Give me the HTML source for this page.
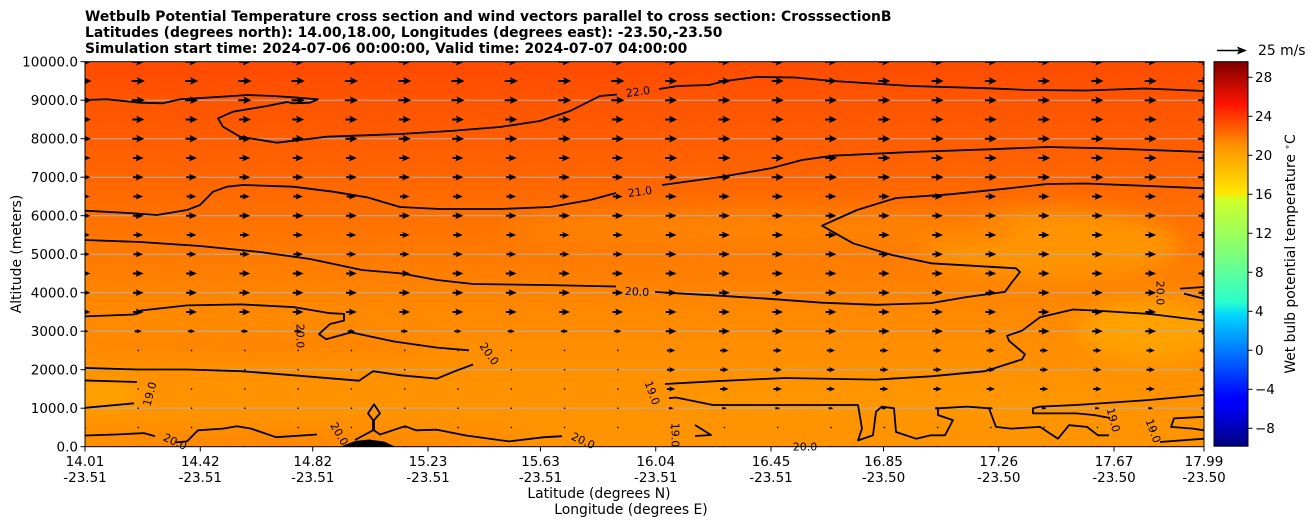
<!DOCTYPE html>
<html><head><meta charset="utf-8">
<style>
html,body{margin:0;padding:0;background:#fff;}
svg{display:block;font-family:"DejaVu Sans","Liberation Sans",sans-serif;}
</style></head>
<body>
<svg id="chart" width="1311" height="526" viewBox="0 0 1311 526" xmlns="http://www.w3.org/2000/svg">
<defs>
<linearGradient id="bgGrad" x1="0" y1="61.7" x2="0" y2="446.7" gradientUnits="userSpaceOnUse">
<stop offset="0" stop-color="#ff4c00"/>
<stop offset="0.12" stop-color="#ff5600"/>
<stop offset="0.28" stop-color="#ff6300"/>
<stop offset="0.4" stop-color="#ff7000"/>
<stop offset="0.52" stop-color="#ff7c00"/>
<stop offset="0.65" stop-color="#ff8900"/>
<stop offset="0.8" stop-color="#ff9100"/>
<stop offset="1" stop-color="#ff9400"/>
</linearGradient>
<linearGradient id="jet" x1="0" y1="1" x2="0" y2="0">
<stop offset="0" stop-color="#00007f"/>
<stop offset="0.11" stop-color="#0000ff"/>
<stop offset="0.125" stop-color="#0000ff"/>
<stop offset="0.34" stop-color="#00d4ff"/>
<stop offset="0.375" stop-color="#29ffce"/>
<stop offset="0.5" stop-color="#7dff7a"/>
<stop offset="0.64" stop-color="#ceff29"/>
<stop offset="0.66" stop-color="#ffe500"/>
<stop offset="0.78" stop-color="#ff9400"/>
<stop offset="0.89" stop-color="#ff1300"/>
<stop offset="1" stop-color="#7f0000"/>
</linearGradient>
<filter id="blur" x="-50%" y="-50%" width="200%" height="200%"><feGaussianBlur stdDeviation="10"/></filter>
<clipPath id="plotClip"><rect x="85" y="61.7" width="1119" height="385"/></clipPath>
</defs>

<g font-weight="bold" font-size="13.9" fill="#000">
<text x="85" y="21">Wetbulb Potential Temperature cross section and wind vectors parallel to cross section: CrosssectionB</text>
<text x="85" y="37">Latitudes (degrees north): 14.00,18.00, Longitudes (degrees east): -23.50,-23.50</text>
<text x="85" y="53">Simulation start time: 2024-07-06 00:00:00, Valid time: 2024-07-07 04:00:00</text>
</g>

<g clip-path="url(#plotClip)">
<rect x="85" y="61.7" width="1119" height="385" fill="url(#bgGrad)"/>
<g filter="url(#blur)">
<ellipse cx="1050" cy="245" rx="130" ry="35" fill="#ff9400"/>
<ellipse cx="1150" cy="330" rx="70" ry="30" fill="#ffa200"/>
<ellipse cx="105" cy="395" rx="35" ry="10" fill="#ffaa00"/>
<ellipse cx="300" cy="440" rx="230" ry="7" fill="#ff8000"/>
<ellipse cx="250" cy="345" rx="200" ry="12" fill="#ff8400"/>
<ellipse cx="760" cy="230" rx="260" ry="20" fill="#ff8200"/>
<ellipse cx="300" cy="64" rx="400" ry="8" fill="#ff4800"/>
<ellipse cx="900" cy="400" rx="240" ry="18" fill="#ff9600"/>
</g>
<g id="grid"></g>
<g id="contours" fill="none" stroke="#000" stroke-width="1.8" stroke-linejoin="round"></g>
<path d="M337,448 L355,441 L369,439.5 L384,441.5 L398,448 Z" fill="#000"/>
<g id="arrows" fill="#000"></g>
</g>
<g id="clabels" font-size="11" fill="#000"></g>
<rect x="85" y="61.7" width="1119" height="385" fill="none" stroke="#000" stroke-width="1"/>
<g id="yaxis" font-size="13.5"></g>
<g id="xaxis" font-size="13.5"></g>
<text font-size="13.9" text-anchor="middle" transform="translate(21,254) rotate(-90)">Altitude (meters)</text>
<text font-size="13.9" x="599" y="498" text-anchor="middle">Latitude (degrees N)</text>
<text font-size="13.9" x="631" y="514" text-anchor="middle">Longitude (degrees E)</text>

<g>
<line x1="1217" y1="50.5" x2="1239" y2="50.5" stroke="#000" stroke-width="1.6"/>
<polygon points="1247,50.5 1237,46.5 1239,50.5 1237,54.5" fill="#000"/>
<text x="1258" y="55" font-size="13.9">25 m/s</text>
</g>

<g id="colorbar">
<rect x="1214" y="61.7" width="34" height="384.5" fill="url(#jet)" stroke="#000" stroke-width="1"/>
</g>
<text font-size="13.9" text-anchor="middle" transform="translate(1295,254) rotate(-90)">Wet bulb potential temperature <tspan font-size="9" dy="-5">∘</tspan><tspan dy="5">C</tspan></text>
</svg>

<script>
// ---- data ----
const altTicks = [0,1000,2000,3000,4000,5000,6000,7000,8000,9000,10000];
const latTicks = [14.01,14.42,14.82,15.23,15.63,16.04,16.45,16.85,17.26,17.67,17.99];
const lonTicks = ["-23.51","-23.51","-23.51","-23.51","-23.51","-23.51","-23.51","-23.50","-23.50","-23.50","-23.50"];
const cbTicks = [-8,-4,0,4,8,12,16,20,24,28];
const windAlts = [10000,9500,9000,8500,8000,7500,7000,6500,6000,5500,5000,4500,4000,3500,3000,2500,2000,1500,1000,500,0];
const windLeft = [10,11,11,10,10,9,9,8,9,8,8,9,9,9,6,1.5,1.5,1,1,1,0.5];
const windRight = [10,10,10,10,10,10,10,9,9,9,9,9,9,9,9,7,7,7,4,1,0.5];
const windCols = 22;
// ---- scales ----
const latMin=14.01, latMax=17.99, altMax=10000;
function xS(lat){return 85+(lat-latMin)/(latMax-latMin)*1119;}
function yS(alt){return 446.7-alt/altMax*385;}
const cbMin=-9.84, cbMax=29.6;
function cbY(v){return 446.2-(v-cbMin)/(cbMax-cbMin)*384.5;}
const pxPerMs = 30/25;
const NS="http://www.w3.org/2000/svg";
function mk(tag,attrs,parent){const e=document.createElementNS(NS,tag);for(const k in attrs)e.setAttribute(k,attrs[k]);parent.appendChild(e);return e;}

const grid=document.getElementById('grid'), yax=document.getElementById('yaxis');
altTicks.forEach(a=>{
  const y=yS(a);
  const g=mk('line',{x1:85,x2:1204,y1:y,y2:y,stroke:'#b0b0b0','stroke-width':1},grid);
  
  
  const t=mk('line',{x1:80.5,x2:85,y1:y,y2:y,stroke:'#000'},yax);
  
  
  const l=mk('text',{x:78,y:y+4.8,'text-anchor':'end'},yax);
  l.textContent=a.toFixed(1);
  
  
});
const xax=document.getElementById('xaxis');
latTicks.forEach((lat,i)=>{
  const x=xS(lat);
  const t=mk('line',{x1:x,x2:x,y1:446.7,y2:451.5,stroke:'#000'},xax);
  
  
  const l=mk('text',{x:x,y:466,'text-anchor':'middle'},xax);
  l.textContent=lat.toFixed(2);
  
  
  const l2=mk('text',{x:x,y:482,'text-anchor':'middle'},xax);
  l2.textContent=lonTicks[i];
  
  
});
const cb=document.getElementById('colorbar');
cbTicks.forEach(v=>{
  const y=cbY(v);
  const t=mk('line',{x1:1248,x2:1252.5,y1:y,y2:y,stroke:'#000'},cb);
  
  
  const l=mk('text',{x:1255,y:y+4.8,'font-size':13.5},cb);
  l.textContent=(v<0?'\u2212'+Math.abs(v):String(v));
  
  
});
const arr=document.getElementById('arrows');
for(let r=0;r<windAlts.length;r++){
  for(let c=0;c<windCols;c++){
    const lat=latMin+c*(latMax-latMin)/(windCols-1);
    const u=c<11?windLeft[r]:windRight[r];
    const L=u*pxPerMs;
    const cx=xS(lat), cy=yS(windAlts[r]);
    let el;
    if(L<3){
      el=mk('circle',{cx:cx,cy:cy,r:Math.max(0.8,L/2.2)},arr);
    } else {
      const x0=cx-L/2, x1=cx+L/2;
      const hl=Math.min(L*0.75,8), hw=Math.min(3.8,L*0.32);
      const sw=1.0;
      const xb=x1-hl;
      el=mk('polygon',{points:`${x0},${cy-sw} ${xb+1},${cy-sw} ${xb},${cy-hw} ${x1},${cy} ${xb},${cy+hw} ${xb+1},${cy+sw} ${x0},${cy+sw}`},arr);
    }
    
    
  }
}
const contourPaths=[
 "M85,100 L107,99.3 L140,102.7 L163,103.3 L180,99.3 L233,96 L247,95 L273,96 L293,97.3 L318,99.3 L310,102.7 L293,103.3 L287,102 L267,106 L233,111.7 L218,118.3 L223,126.7 L240,136.7 L277,142.7 L300,140 L327,136.7 L400,134 L450,131 L500,127 L540,121 L570,111 L600,96 L617,94.5",
 "M659,89 L678,86 L709,85 L725,81 L756,77 L795,77.5 L833,81 L911,86 L989,88.3 L1028,90 L1086,90.5 L1145,88.5 L1204,91",
 "M85,210.7 L133,213.3 L157,215 L187,210 L200,205 L213,191.7 L227,186.7 L243,185 L293,186.7 L333,191.7 L367,197.3 L400,207 L440,209 L500,209 L550,207 L590,200 L616,193",
 "M662,185 L717,177.5 L771,168.3 L802,160 L833,155.7 L911,152 L989,149.3 L1047,147 L1106,148.3 L1204,152",
 "M1204,188.3 L1149,186 L1086,183.5 L1047,184 L1009,188.3 L950,194.3 L896,198 L857,210 L822,225.7 L853,243.3 L892,255 L931,263.3 L1016,268.3 L1020,272 L1011,283.5 L1005,291.9 L967,297 L931,303.1 L876,304.8 L822,302.7 L767,298.7 L713,295.3 L669,292.9 L655,291.9",
 "M85,240 L140,242 L200,246 L260,252 L310,259 L362,270 L401,273.4 L437,280 L473,284 L544,285 L616,286.5",
 "M1180,288.6 L1204,287", "M1184,293.6 L1204,298.7",
 "M80,316.6 L134,314.5 L141,310.5 L187,305.4 L241,304.4 L294,307.1 L330,313.2 L344,313.9 L344,320.6 L330,324 L319,334.1 L326,339.2 L351,332.4 L394,341.5 L437,347.6 L469,350.3",
 "M1204,320.6 L1149,313.9 L1094,310.5 L1073,309.5 L1040,317.2 L1022,330.7 L1007,335.8 L1009,340.8 L1025,354.3 L1022,359.4 L985,371.2 L931,376.3 L876,379.6 L785,378 L713,381.3 L665,384",
 "M80,367.8 L137,369.5 L187,369.5 L241,371.2 L294,375.3 L359,380.7 L373,371.2 L401,375.3 L437,378.6 L455,371.2 L473,364.5",
 "M80,380.3 L137,382", "M80,408.3 L134,403.3",
 "M85,435.5 L116,434.5 L144,433.1 L155,436.2",
 "M176,442.4 L187,441.4 L198,430.3 L223,428.6 L237,426.2 L251,428.6 L276,437.2 L317,434.5",
 "M355,440 L373,430.3 L373,420.1 L368,413.4 L374,404.3 L380,413.4 L374,420.1 L374,430.3 L380,434.5 L405,426.2 L416,430.3 L437,429.7 L466,435.5 L509,441.4 L544,437.2 L562,436.2",
 "M695,425 L711,435 L695,436",
 "M669,398.2 L676,397.5 L713,405 L785,405 L858,405 L862,428.6 L858,440.4 L873,435.3 L876,411.7 L882,406.6 L894,408.3 L896,432 L916,438.7 L931,435.3 L945,435.3 L953,420.1 L938,415.1 L938,408.3 L967,406.6 L989,408.3 L996,426.9 L1011,428.6 L1040,426.9 L1058,438.7 L1069,425.2 L1087,426.9 L1098,435.3 L1109,435.3",
 "M1204,395 L1149,400 L1076,405 L1040,406.6 L1033,408.3 L1033,413.4 L1076,413.4 L1094,415 L1110,418",
 "M1160,442 L1204,438.7",
 "M1204,416.8 L1174,418.4 L1171,426.9 L1193,428.6 L1204,430.3"
];
const cg=document.getElementById('contours');
contourPaths.forEach(d=>{
  const p=mk('path',{d:d},cg);
  
  
});
const clabels=[["22.0",638,92,-8],["21.0",640,192,-8],["20.0",637,292,3],["20.0",300,336,90],["20.0",489,354,55],
["19.0",150,394,-75],["20.0",175,442,25],["20.0",339,434,60],["20.0",583,441,25],["19.0",652,393,70],
["19.0",675,435,90],["20.0",805,447,0],["19.0",1113,420,75],["19.0",1153,431,70],["20.0",1160,293,90]];
const cl=document.getElementById('clabels');
clabels.forEach(c=>{
  const t=mk('text',{x:0,y:0,'text-anchor':'middle','dominant-baseline':'central',transform:`translate(${c[1]},${c[2]}) rotate(${c[3]})`},cl);
  t.textContent=c[0];
  
  
});
</script>
</body></html>
